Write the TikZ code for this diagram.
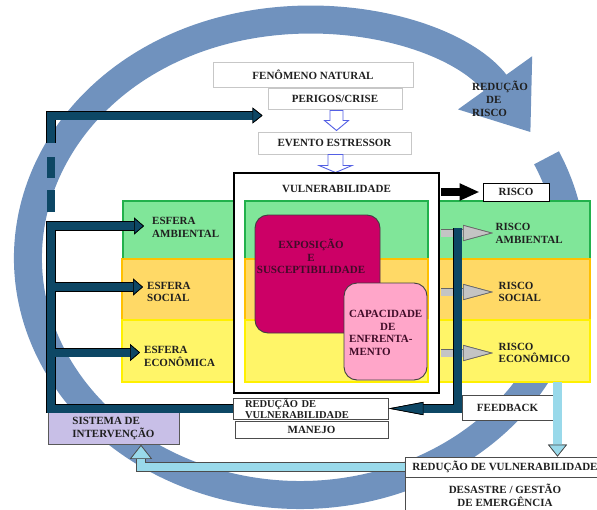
\documentclass[tikz,border=0pt]{standalone}
\usepackage{fontspec}
\setmainfont{Liberation Serif}
\usetikzlibrary{arrows.meta, positioning, calc}

\definecolor{ringblue}{RGB}{112,146,190}
\definecolor{darknavy}{RGB}{13,71,101}
\definecolor{skyblue}{RGB}{153,217,234}
\definecolor{lavender}{RGB}{200,191,231}
\definecolor{ambgreen}{RGB}{128,230,153}
\definecolor{ambedge}{RGB}{34,177,76}
\definecolor{socorange}{RGB}{255,217,102}
\definecolor{socedge}{RGB}{255,192,0}
\definecolor{ecoyellow}{RGB}{255,245,104}
\definecolor{ecoedge}{RGB}{255,240,0}
\definecolor{expored}{RGB}{204,0,102}
\definecolor{capapink}{RGB}{255,166,201}
\definecolor{darkwine}{RGB}{64,12,40}
\definecolor{hollowblue}{RGB}{84,96,228}
\definecolor{arrowgray}{RGB}{196,196,196}

\begin{document}
\begin{tikzpicture}[x=1pt, y=-1pt,
  lbl/.style={font=\fontsize{11}{12.8}\selectfont\bfseries, text=black!88, inner sep=0pt},
  topbox/.style={lbl, draw=black!22, line width=1pt, fill=white},
  framebox/.style={lbl, draw=black!70, line width=0.9pt, fill=white},
  ambband/.style={fill=ambgreen, draw=ambedge, line width=1.5pt},
  socband/.style={fill=socorange, draw=socedge, line width=1.5pt},
  ecoband/.style={fill=ecoyellow, draw=ecoedge, line width=1.5pt},
  roundbox/.style={draw=black!75, line width=0.9pt, rounded corners=13pt, inner sep=0pt},
  navyline/.style={draw=darknavy, line width=8pt, preaction={draw=black, line width=9.4pt}},
  grayline/.style={draw=arrowgray, line width=7pt, preaction={draw=black!60, line width=8.4pt}},
  skyline/.style={draw=skyblue, line width=8.5pt, preaction={draw=black!70, line width=9.9pt}},
  navytip/.style 2 args={-{Triangle[length=#1, width=#2, color=black, fill=darknavy, line width=0.7pt]}},
  graytip/.style 2 args={-{Triangle[length=#1, width=#2, color=black!60, fill=arrowgray, line width=0.7pt]}},
  skytip/.style 2 args={-{Triangle[length=#1, width=#2, color=black!70, fill=skyblue, line width=0.7pt]}},
  hollow/.style={draw=hollowblue, fill=white, line width=0.9pt, line join=miter}
]
  \useasboundingbox (0,0) rectangle (597,509);

  \draw[ringblue, line width=28pt, -{Triangle[length=61pt, width=87pt]}] (546.5,157.8) arc[start angle=-25, end angle=328, x radius=272, y radius=237];
  \node[lbl, align=left, anchor=west] (redRisco) at (472,99) {REDUÇÃO\\\hspace*{14pt}DE\\RISCO};

  \node[topbox, minimum width=200pt, minimum height=25pt] (fen) at (313,74.5) {FENÔMENO NATURAL};
  \node[topbox, minimum width=134pt, minimum height=21pt] (per) at (335,98.5) {PERIGOS/CRISE};
  \node[topbox, minimum width=153pt, minimum height=22pt] (eve) at (334.5,143) {EVENTO ESTRESSOR};
  \draw[hollow] ($(per.south)+(1.5,1)$) ++(-6.5,0) -- ++(13,0) -- ++(0,10) -- ++(5.5,0) -- ++(-12,10) -- ++(-12,-10) -- ++(5.5,0) -- cycle;
  \draw[hollow] ($(eve.south)+(1,0)$) ++(-7.5,0) -- ++(15,0) -- ++(0,11) -- ++(9,0) -- ++(-16.5,7) -- ++(-16.5,-7) -- ++(9,0) -- cycle;

  \draw[ambband] (123,201) rectangle (590,259);
  \draw[socband] (122,259) rectangle (590,320);
  \draw[ecoband] (122,320) rectangle (590,382);
  \node[lbl, anchor=west, align=left, inner xsep=8pt] (eAmb) at (144,227.5) {ESFERA\\AMBIENTAL};
  \node[lbl, anchor=west, align=left, inner xsep=4pt] (eSoc) at (143,292) {ESFERA\\SOCIAL};
  \node[lbl, anchor=west, align=left, inner xsep=4pt] (eEco) at (140,356.5) {ESFERA\\ECONÔMICA};

  \node[draw=black, line width=2.5pt, fill=white, minimum width=205pt, minimum height=220pt, inner sep=0pt] (vul) at (336.5,283) {};
  \node[lbl] (vulTitle) at (336.5,188.5) {VULNERABILIDADE};
  \draw[ambband] (245,201) rectangle (428,259);
  \draw[socband] (245,259) rectangle (428,320);
  \draw[ecoband] (245,320) rectangle (428,382);
  \node[roundbox, fill=expored, minimum width=125pt, minimum height=118pt] (expo) at (317.5,274) {};
  \node[lbl, text=darkwine, align=center] (expoText) at (311,256.5) {EXPOSIÇÃO\\E\\SUSCEPTIBILIDADE};
  \node[roundbox, fill=capapink, minimum width=83pt, minimum height=97pt] (capa) at (385.5,331.5) {};
  \node[lbl, text=darkwine, align=left, anchor=west] (capaText) at (349,333) {CAPACIDADE\\\hspace*{31pt}DE\\ENFRENTA-\\MENTO};

  \node[lbl, anchor=west, align=left, inner xsep=2.5pt] (rAmb) at (493,233) {RISCO\\AMBIENTAL};
  \node[lbl, anchor=west, align=left, inner xsep=5.5pt] (rSoc) at (493,292) {RISCO\\SOCIAL};
  \node[lbl, anchor=west, align=left, inner xsep=5.5pt] (rEco) at (493,353) {RISCO\\ECONÔMICO};
  \node[framebox, draw=black, minimum width=66pt, minimum height=18pt] (risco) at (516,192) {RISCO};

  \node[framebox, minimum width=155pt, minimum height=21pt, text width=131pt, align=left, font=\fontsize{10.5}{11}\selectfont\bfseries] (redVul) at (310.5,408.5) {REDUÇÃO DE\\VULNERABILIDADE};
  \node[framebox, minimum width=153pt, minimum height=17pt] (manejo) at (311.5,429.5) {MANEJO};
  \node[framebox, minimum width=91pt, minimum height=25pt] (feedback) at (507.5,407.5) {FEEDBACK};
  \node[framebox, fill=lavender, draw=black!65, minimum width=131pt, minimum height=32pt, align=left] (sis) at (113.5,428.5) {SISTEMA DE\\INTERVENÇÃO};
  \node[framebox, minimum width=200pt, minimum height=20pt] (redV2) at (505,467) {REDUÇÃO DE VULNERABILIDADE};
  \node[framebox, minimum width=200pt, minimum height=36pt, align=center] (desastre) at (505,495) {DESASTRE / GESTÃO\\DE EMERGÊNCIA};

  \coordinate (vulE) at ([xshift=1.2pt]vul.east);
  \draw[grayline, graytip={30pt}{16pt}] (vulE |- rAmb.west) -- (rAmb.west);
  \draw[grayline, graytip={30pt}{16pt}] (vulE |- rSoc.west) -- (rSoc.west);
  \draw[grayline, graytip={30pt}{16pt}] (vulE |- rEco.west) -- (rEco.west);
  \draw[draw=black, line width=8pt, -{Triangle[length=20pt, width=16pt]}, shorten >=3pt] (vulE |- risco.west) -- (risco.west);

  \coordinate (fbStart) at (457.5,228);
  \draw[navyline, navytip={35pt}{13pt}] (fbStart) -- (fbStart |- redVul.east) -- (redVul.east);

  \coordinate (trunkTop) at (51,115.5);
  \coordinate (dashTop) at (51,143);
  \coordinate (dashEnd) at (51,222);
  \coordinate (trunkR) at (55,0);
  \coordinate (eAmbIn) at ([yshift=1.5pt]eAmb.west);
  \coordinate (eSocIn) at ([yshift=5pt]eSoc.west);
  \coordinate (eEcoIn) at ([yshift=4pt]eEco.west);
  \draw[navyline, navytip={10pt}{17pt}] (redVul.west) -- (redVul.west -| trunkTop) -- (trunkTop |- eAmbIn) -- (eAmbIn);
  \draw[navyline, navytip={10pt}{17pt}] (trunkR |- eSocIn) -- (eSocIn);
  \draw[navyline, navytip={10pt}{17pt}] (trunkR |- eEcoIn) -- (eEcoIn);
  \draw[navyline, navytip={10pt}{16pt}, shorten >=5pt] (dashTop) -- (trunkTop) -- (trunkTop -| per.west);
  \draw[draw=darknavy, line width=8pt, dash pattern=on 0pt off 14pt on 21pt off 12pt on 22pt off 10pt] (dashTop) -- (dashEnd);

  \coordinate (fbDown) at (557.5,382);
  \coordinate (sisX) at (141,0);
  \draw[skyline, skytip={12pt}{19pt}] (fbDown) -- (fbDown |- redV2.north);
  \draw[skyline, skytip={14pt}{22pt}] (redV2.west) -- (redV2.west -| sisX) -- (sisX |- sis.south);
\end{tikzpicture}
\end{document}
